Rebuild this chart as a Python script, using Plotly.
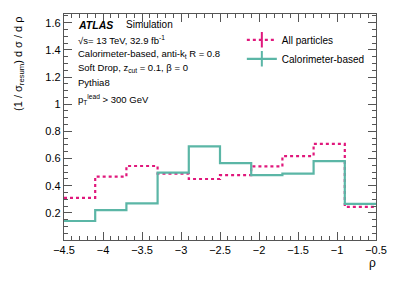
import plotly.graph_objects as go

# Data
bin_edges = [-4.5, -4.1, -3.7, -3.3, -2.9, -2.5, -2.1, -1.7, -1.3, -0.9, -0.5]
all_particles = [0.31, 0.467, 0.545, 0.489, 0.449, 0.478, 0.542, 0.618, 0.708, 0.244]
calorimeter = [0.14, 0.22, 0.27, 0.496, 0.69, 0.566, 0.478, 0.488, 0.581, 0.266]
x_ticks = [-4.5, -4, -3.5, -3, -2.5, -2, -1.5, -1, -0.5]
x_ticklabels = ["\u22124.5", "\u22124", "\u22123.5", "\u22123", "\u22122.5", "\u22122", "\u22121.5", "\u22121", "\u22120.5"]
y_ticks = [0.2, 0.4, 0.6, 0.8, 1.0, 1.2, 1.4, 1.6]
y_ticklabels = ["0.2", "0.4", "0.6", "0.8", "1", "1.2", "1.4", "1.6"]

PINK = "#e0187c"
TEAL = "#5bb6a6"
FONT = "Liberation Sans, Arial, sans-serif"

fig = go.Figure()

def step(vals):
    return vals + [vals[-1]]

fig.add_trace(go.Scatter(x=bin_edges, y=step(all_particles), mode="lines", line_shape="hv",
                         line=dict(color=PINK, width=2.2, dash="dot"), showlegend=False))
fig.add_trace(go.Scatter(x=bin_edges, y=step(calorimeter), mode="lines", line_shape="hv",
                         line=dict(color=TEAL, width=2.2), showlegend=False))

# legend-only entries
fig.add_trace(go.Scatter(x=[None], y=[None], mode="lines+markers", name="All particles",
                         line=dict(color=PINK, width=2.2, dash="dot"),
                         marker=dict(symbol="line-ns", size=11, line=dict(color=PINK, width=2))))
fig.add_trace(go.Scatter(x=[None], y=[None], mode="lines+markers", name="Calorimeter-based",
                         line=dict(color=TEAL, width=2.2),
                         marker=dict(symbol="line-ns", size=11, line=dict(color=TEAL, width=2))))

axis_common = dict(showline=True, linecolor="#555", linewidth=1.3, mirror="ticks",
                   ticks="inside", tickcolor="#555", showgrid=False, zeroline=False,
                   tickfont=dict(family=FONT, size=11, color="black"))

fig.update_xaxes(range=[-4.5, -0.5], tickvals=x_ticks, ticktext=x_ticklabels, ticklen=8,
                 minor=dict(dtick=0.1, tick0=-4.5, ticks="inside", ticklen=4, tickcolor="#555"),
                 **axis_common)
fig.update_yaxes(range=[0, 1.664], tickvals=y_ticks, ticktext=y_ticklabels, ticklen=8,
                 minor=dict(dtick=0.05, tick0=0, ticks="inside", ticklen=4, tickcolor="#555"),
                 **axis_common)

ann_font = dict(family=FONT, size=9.5, color="black")
annotations = [
    dict(text="<b><i>ATLAS</i></b>", x=0.04, y=25, font=dict(family=FONT, size=10.5, color="black")),
    dict(text="Simulation", x=0.193, y=25, font=dict(family=FONT, size=10, color="black")),
    dict(text="\u221as= 13 TeV, 32.9 fb<sup>-1</sup>", x=0.037, y=40),
    dict(text="Calorimeter-based, anti-k<sub>t</sub> R = 0.8", x=0.037, y=54),
    dict(text="Soft Drop, z<sub>cut</sub> = 0.1, \u03b2 = 0", x=0.037, y=68),
    dict(text="Pythia8", x=0.037, y=83),
    dict(text="p<sub>T</sub><sup>lead</sup> > 300 GeV", x=0.037, y=99),
]
H_PLOT_TOP = 14
H_PLOT = 226
for a in annotations:
    ypx = a["y"]
    fig.add_annotation(text=a["text"], xref="paper", yref="paper", x=a["x"],
                       y=1 - (ypx - H_PLOT_TOP) / H_PLOT, xanchor="left", yanchor="middle",
                       showarrow=False, font=a.get("font", ann_font))

# y title
fig.add_annotation(text="(1 / \u03c3<sub>resum</sub>) d \u03c3 / d \u03c1", xref="paper", yref="paper",
                   x=-0.145, y=0.995, xanchor="center", yanchor="top", textangle=-90,
                   showarrow=False, font=dict(family=FONT, size=11, color="black"))
# x title
fig.add_annotation(text="\u03c1", xref="paper", yref="paper", x=0.99, y=-0.06,
                   xanchor="center", yanchor="top", showarrow=False,
                   font=dict(family=FONT, size=12, color="black"))

fig.update_layout(
    width=399, height=286,
    margin=dict(l=64, r=20, t=14, b=46),
    paper_bgcolor="white", plot_bgcolor="white",
    legend=dict(x=0.57, y=0.95, xanchor="left", yanchor="top", bgcolor="rgba(0,0,0,0)",
                font=dict(family=FONT, size=10, color="black"), tracegroupgap=0,
                itemwidth=30),
)

fig.write_html("out.html", config={"displayModeBar": False},
               post_script="document.body.style.margin='0';document.body.style.overflow='hidden';")
